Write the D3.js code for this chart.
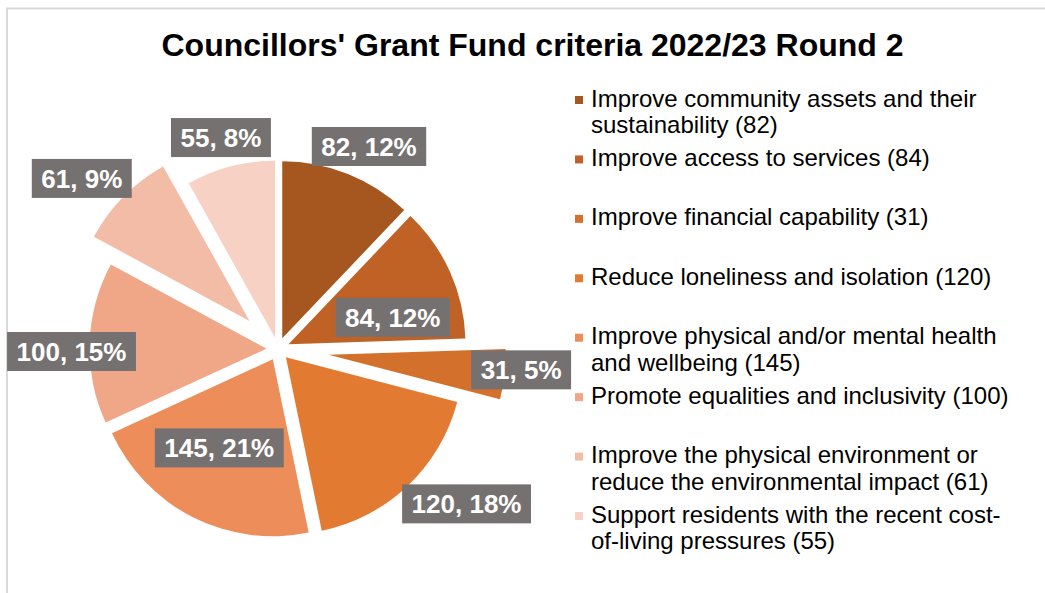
<!DOCTYPE html>
<html>
<head>
<meta charset="utf-8">
<script src="https://cdn.jsdelivr.net/npm/d3@7"></script>
<style>
  html, body { margin: 0; padding: 0; background: #ffffff; }
  svg { display: block; }
  text { font-family: "Liberation Sans", Arial, sans-serif; }
</style>
</head>
<body>
<svg id="chart" width="1045" height="593"></svg>
<script>
// ---- data ----
const title = "Councillors' Grant Fund criteria 2022/23 Round 2";
const categories = [
  "Improve community assets and their sustainability",
  "Improve access to services",
  "Improve financial capability",
  "Reduce loneliness and isolation",
  "Improve physical and/or mental health and wellbeing",
  "Promote equalities and inclusivity",
  "Improve the physical environment or reduce the environmental impact",
  "Support residents with the recent cost-of-living pressures"
];
const values = [82, 84, 31, 120, 145, 100, 61, 55];
const colors = ["#A6561F", "#C06225", "#D3702C", "#E27A32", "#EC8D5A", "#F0A788", "#F3BCA6", "#F7D1C4"];

// ---- layout / style (not data) ----
const W = 1045, H = 593;
const cx = 278, cy = 349, R = 177;
const explode = [11.5, 11.5, 51, 11.5, 11.5, 11.5, 40, 11.5];
// label placement: polar radius (px) and angle (deg, clockwise from 12 o'clock)
const labelR = [222, 119, 244, 244, 115, 206.5, 260, 219];
const labelA = [24.2, 74.6, 94.9, 129.4, 210.7, 269.3, 311.0, 344.9];

const svg = d3.select("#chart");

// chart border
svg.append("rect")
  .attr("x", 7).attr("y", 8.5)
  .attr("width", W + 50).attr("height", H + 50)
  .attr("fill", "#ffffff")
  .attr("stroke", "#D9D9D9").attr("stroke-width", 2);

// title
svg.append("text")
  .attr("x", 532.5).attr("y", 56)
  .attr("text-anchor", "middle")
  .attr("font-size", 32).attr("font-weight", "bold")
  .attr("fill", "#000000")
  .text(title);

// pie
const total = d3.sum(values);
const pie = d3.pie().sort(null).value(d => d)(values);
const arc = d3.arc().innerRadius(0).outerRadius(R);

const g = svg.append("g").attr("transform", `translate(${cx},${cy})`);

g.selectAll("path.slice")
  .data(pie)
  .join("path")
  .attr("class", "slice")
  .attr("d", arc)
  .attr("fill", (d, i) => colors[i])
  .attr("transform", (d, i) => {
    const mid = (d.startAngle + d.endAngle) / 2;
    return `translate(${Math.sin(mid) * explode[i]},${-Math.cos(mid) * explode[i]})`;
  });

// data labels
const fmtPct = v => Math.round(v / total * 100) + "%";
const lg = g.selectAll("g.lbl")
  .data(pie)
  .join("g")
  .attr("class", "lbl")
  .attr("transform", (d, i) => {
    const a = labelA[i] * Math.PI / 180;
    return `translate(${Math.sin(a) * labelR[i]},${-Math.cos(a) * labelR[i]})`;
  });

lg.each(function(d, i) {
  const s = d3.select(this);
  const box = s.append("rect").attr("fill", "#767171");
  const t = s.append("text")
    .attr("text-anchor", "middle")
    .attr("font-size", 26).attr("font-weight", "bold")
    .attr("fill", "#ffffff")
    .attr("y", 9.3)
    .text(`${values[i]}, ${fmtPct(values[i])}`);
  const w = t.node().getComputedTextLength() + 19;
  box.attr("x", -w / 2).attr("y", -19.5).attr("width", w).attr("height", 39);
});

// legend
const legX = 591, legY0 = 106.5, slot = 59.43, lineH = 26.5, maxW = 421;
const measurer = svg.append("text").attr("font-size", 24).attr("visibility", "hidden");
function measure(s) { measurer.text(s); return measurer.node().getComputedTextLength(); }
function wrap(str) {
  // tokens: break after spaces and hyphens
  const tokens = str.match(/[^\s-]+-?|\s+/g);
  const lines = [];
  let cur = "";
  tokens.forEach(tok => {
    const trial = cur + tok;
    if (cur.trim() !== "" && measure(trial.trimEnd()) > maxW) {
      lines.push(cur.trimEnd());
      cur = tok.trimStart();
    } else {
      cur = trial;
    }
  });
  if (cur.trim() !== "") lines.push(cur.trimEnd());
  return lines;
}

const leg = svg.append("g");
categories.forEach((c, i) => {
  const y = legY0 + i * slot;
  leg.append("rect")
    .attr("x", 575).attr("y", y - 10.5)
    .attr("width", 8).attr("height", 8)
    .attr("fill", colors[i]);
  const lines = wrap(`${c} (${values[i]})`);
  const t = leg.append("text")
    .attr("x", legX).attr("y", y)
    .attr("font-size", 24).attr("fill", "#000000");
  lines.forEach((ln, k) => {
    t.append("tspan").attr("x", legX).attr("y", y + k * lineH).text(ln);
  });
});
measurer.remove();
</script>
</body>
</html>
